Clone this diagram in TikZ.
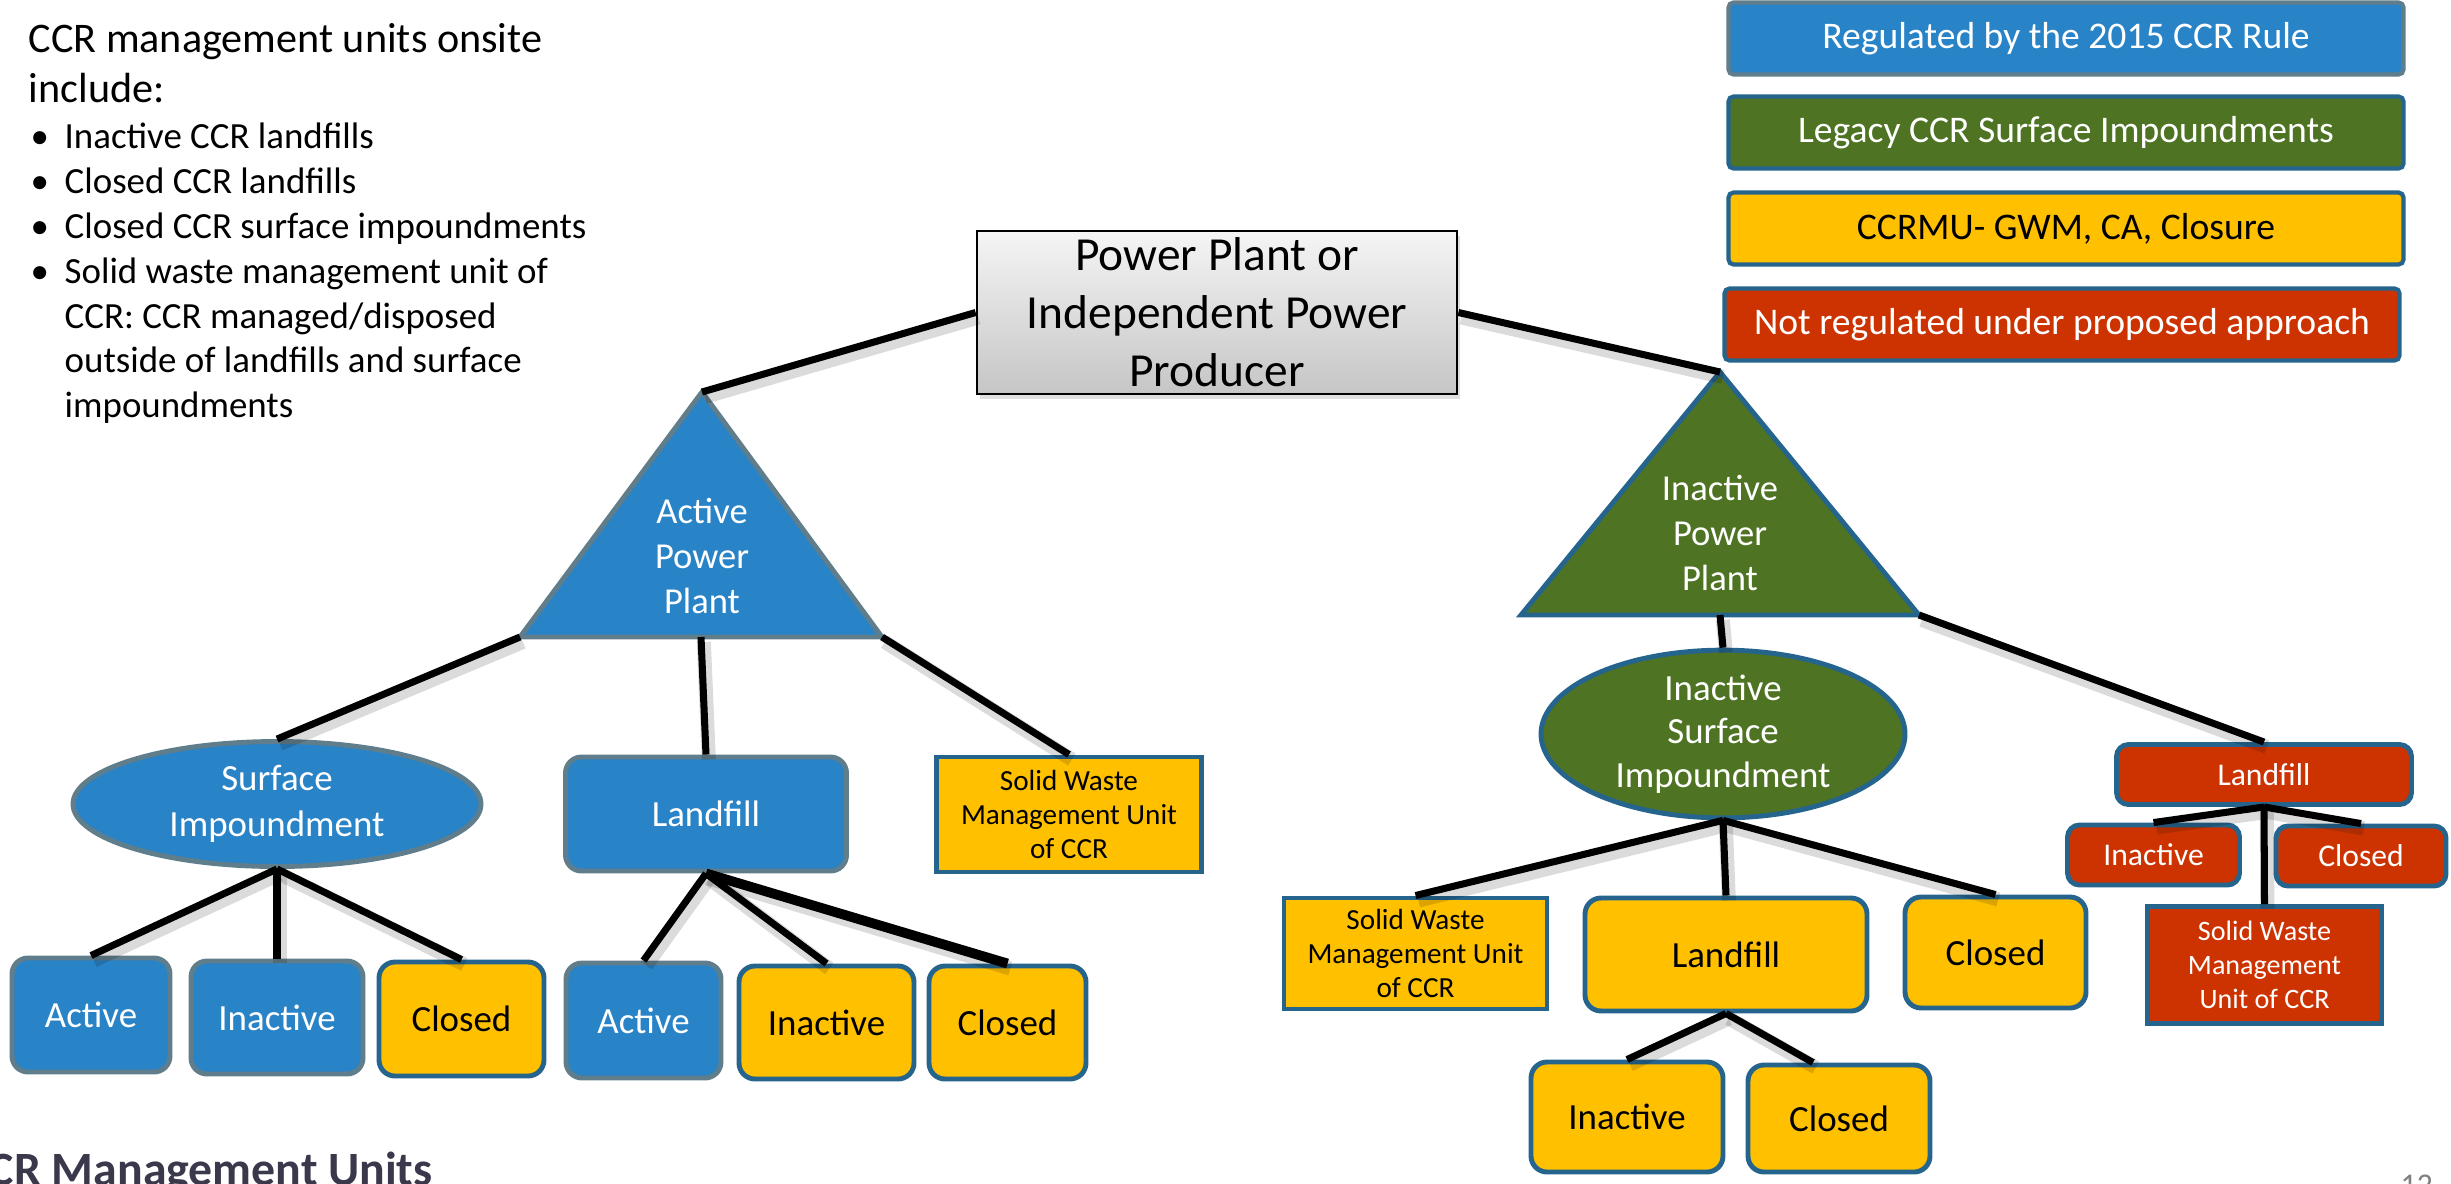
\documentclass[tikz,border=0pt]{standalone}
\usepackage{fontspec}
\setmainfont{Carlito}
\usetikzlibrary{shapes, shadows}
\definecolor{ruleblue}{RGB}{41,131,199}
\definecolor{legacygreen}{RGB}{78,115,35}
\definecolor{ccrmuyellow}{RGB}{255,192,0}
\definecolor{notred}{RGB}{204,51,0}
\definecolor{slateedge}{RGB}{96,125,139}
\definecolor{blueedge}{RGB}{37,100,140}
\definecolor{headgray}{RGB}{58,56,75}
\tikzstyle{legendbox} = [rectangle, rounded corners=0.05cm, line width=1.2pt, minimum width=6.75cm, minimum height=0.72cm,
                    inner sep=0, font=\fontsize{10.7}{12.8}\selectfont]
\tikzstyle{unitbox} = [rectangle, rounded corners=0.16cm, line width=1.4pt, inner sep=0, align=center,
                    font=\fontsize{10.5}{12.6}\selectfont]
\tikzstyle{swmubox} = [rectangle, line width=1.4pt, inner sep=0, align=center, font=\fontsize{8.3}{9.6}\selectfont]
\tikzstyle{pondshape} = [ellipse, line width=1.4pt, inner sep=0, align=center, text=white]
\tikzstyle{bluefill} = [fill=ruleblue, draw=slateedge, text=white]
\tikzstyle{greenfill} = [fill=legacygreen, draw=blueedge, text=white]
\tikzstyle{yellowfill} = [fill=ccrmuyellow, draw=blueedge, text=black]
\tikzstyle{redfill} = [fill=notred, draw=blueedge, text=white]
\tikzstyle{bodytext} = [anchor=base west, inner sep=0, font=\fontsize{10.5}{12.8}\selectfont]
\tikzstyle{planttext} = [text=white, align=center, font=\fontsize{10.4}{12.8}\selectfont]
\tikzstyle{branch} = [line width=2pt, black,
                    preaction={draw=black, opacity=0.14, line width=4pt, transform canvas={xshift=0.8pt, yshift=-1.4pt}}]

\begin{document}
\begin{tikzpicture}
	\useasboundingbox (0, 0) rectangle (24.51, -11.83);
	\clip (0, 0) rectangle (24.51, -11.83);

	% text on the left
	\node (Title1) [anchor=base west, inner sep=0, font=\fontsize{12}{14}\selectfont] at (0.28, -0.52) {CCR management units onsite};
	\node (Title2) [anchor=base west, inner sep=0, font=\fontsize{12}{14}\selectfont] at (0.28, -1.02) {include:};
	\node (Item1) [bodytext] at (0.30, -1.48) {\makebox[0.34cm][l]{\textbullet}Inactive CCR landfills};
	\node (Item2) [bodytext] at (0.30, -1.93) {\makebox[0.34cm][l]{\textbullet}Closed CCR landfills};
	\node (Item3) [bodytext] at (0.30, -2.38) {\makebox[0.34cm][l]{\textbullet}Closed CCR surface impoundments};
	\node (Item4) [bodytext] at (0.30, -2.83) {\makebox[0.34cm][l]{\textbullet}Solid waste management unit of};
	\node (Item4b) [bodytext] at (0.64, -3.28) {CCR: CCR managed/disposed};
	\node (Item4c) [bodytext] at (0.64, -3.72) {outside of landfills and surface};
	\node (Item4d) [bodytext] at (0.64, -4.17) {impoundments};

	% legend
	\node (LegRule) [legendbox, bluefill] at (20.66, -0.385) {Regulated by the 2015 CCR Rule};
	\node (LegLegacy) [legendbox, greenfill] at (20.66, -1.325) {Legacy CCR Surface Impoundments};
	\node (LegCCRMU) [legendbox, yellowfill] at (20.66, -2.285) {CCRMU- GWM, CA, Closure};
	\node (LegNot) [legendbox, redfill] at (20.62, -3.245) {Not regulated under proposed approach};

	% root
	\node (Root) [rectangle, draw=black, line width=0.8pt, top color=gray!8, bottom color=gray!45,
		drop shadow={opacity=0.25, shadow xshift=0.03cm, shadow yshift=-0.05cm},
		minimum width=4.8cm, minimum height=1.63cm, inner sep=0, align=center,
		font=\fontsize{13.5}{16.5}\selectfont] at (12.17, -3.125) {Power Plant or\\Independent Power\\Producer};

	% active plant
	\coordinate (ActTop) at (7.02, -3.92);
	\coordinate (ActLeft) at (5.20, -6.37);
	\coordinate (ActRight) at (8.82, -6.37);
	\coordinate (ActMid) at (7.01, -6.37);
	\filldraw [fill=ruleblue, draw=slateedge, line width=1.4pt] (ActTop) -- (ActRight) -- (ActLeft) -- cycle;
	\node (ActText) [planttext] at (7.02, -5.56) {Active\\Power\\Plant};
	\draw [branch] (Root.west) -- (ActTop);

	\node (SurfImp) [pondshape, bluefill, draw=slateedge, minimum width=4.08cm, minimum height=1.25cm,
		font=\fontsize{10.5}{13}\selectfont] at (2.77, -8.04) {Surface\\Impoundment};
	\node (Landfill) [unitbox, bluefill, minimum width=2.81cm, minimum height=1.14cm] at (7.06, -8.14) {Landfill};
	\node (SolidWaste) [swmubox, yellowfill, minimum width=2.65cm, minimum height=1.15cm] at (10.69, -8.145)
		{Solid Waste\\Management Unit\\of CCR};
	\draw [branch] (ActLeft) -- (SurfImp.north);
	\draw [branch] (ActMid) -- (Landfill.north);
	\draw [branch] (ActRight) -- (SolidWaste.north);

	\node (SurfActive) [unitbox, bluefill, minimum width=1.58cm, minimum height=1.14cm] at (0.91, -10.15) {Active};
	\node (SurfInactive) [unitbox, bluefill, minimum width=1.72cm, minimum height=1.13cm] at (2.77, -10.175) {Inactive};
	\node (SurfClosed) [unitbox, yellowfill, minimum width=1.65cm, minimum height=1.14cm] at (4.615, -10.19) {Closed};
	\draw [branch] (SurfImp.south) -- (SurfActive.north);
	\draw [branch] (SurfImp.south) -- (SurfInactive.north);
	\draw [branch] (SurfImp.south) -- (SurfClosed.north);

	\node (LfActive) [unitbox, bluefill, minimum width=1.55cm, minimum height=1.15cm] at (6.435, -10.205) {Active};
	\node (LfInactive) [unitbox, yellowfill, minimum width=1.75cm, minimum height=1.13cm] at (8.265, -10.225) {Inactive};
	\node (LfClosed) [unitbox, yellowfill, minimum width=1.57cm, minimum height=1.13cm] at (10.075, -10.225) {Closed};
	\draw [branch] (Landfill.south) -- (LfActive.north);
	\draw [branch] (Landfill.south) -- (LfInactive.north);
	\draw [branch, line width=2.8pt] (Landfill.south) -- (LfClosed.north);

	% inactive plant
	\coordinate (InactTop) at (17.20, -3.72);
	\coordinate (InactLeft) at (15.21, -6.15);
	\coordinate (InactRight) at (19.19, -6.15);
	\coordinate (InactMid) at (17.20, -6.15);
	\filldraw [fill=legacygreen, draw=blueedge, line width=1.4pt] (InactTop) -- (InactRight) -- (InactLeft) -- cycle;
	\node (InactText) [planttext] at (17.20, -5.33) {Inactive\\Power\\Plant};
	\draw [branch] (Root.east) -- (InactTop);

	\node (InSurf) [pondshape, greenfill, minimum width=3.64cm, minimum height=1.48cm,
		font=\fontsize{10.5}{12.4}\selectfont] at (17.23, -7.34) {Inactive\\Surface\\Impoundment};
	\draw [branch] (InactMid) -- (InSurf.north);

	\node (InSolidWaste) [swmubox, yellowfill, minimum width=2.63cm, minimum height=1.11cm] at (14.155, -9.535)
		{Solid Waste\\Management Unit\\of CCR};
	\node (InLandfill) [unitbox, yellowfill, minimum width=2.82cm, minimum height=1.13cm] at (17.26, -9.545) {Landfill};
	\node (InClosed) [unitbox, yellowfill, minimum width=1.81cm, minimum height=1.11cm] at (19.955, -9.525) {Closed};
	\draw [branch] (InSurf.south) -- (InSolidWaste.north);
	\draw [branch] (InSurf.south) -- (InLandfill.north);
	\draw [branch] (InSurf.south) -- (InClosed.north);

	\node (InLfInactive) [unitbox, yellowfill, minimum width=1.92cm, minimum height=1.10cm] at (16.27, -11.17) {Inactive};
	\node (InLfClosed) [unitbox, yellowfill, minimum width=1.82cm, minimum height=1.07cm] at (18.39, -11.185) {Closed};
	\draw [branch] (InLandfill.south) -- (InLfInactive.north);
	\draw [branch] (InLandfill.south) -- ([xshift=-0.26cm]InLfClosed.north);

	% not regulated
	\node (RedLandfill) [unitbox, redfill, rounded corners=0.12cm, minimum width=2.95cm, minimum height=0.60cm,
		font=\fontsize{9}{10.8}\selectfont] at (22.64, -7.745) {Landfill};
	\draw [branch] (InactRight) -- (RedLandfill.north);
	\node (RedInactive) [unitbox, redfill, rounded corners=0.12cm, minimum width=1.72cm, minimum height=0.60cm,
		font=\fontsize{9}{10.8}\selectfont] at (21.535, -8.55) {Inactive};
	\node (RedClosed) [unitbox, redfill, rounded corners=0.12cm, minimum width=1.70cm, minimum height=0.60cm,
		font=\fontsize{9}{10.8}\selectfont] at (23.61, -8.56) {Closed};
	\node (RedSolidWaste) [swmubox, redfill, minimum width=2.34cm, minimum height=1.17cm,
		font=\fontsize{8}{9.6}\selectfont] at (22.645, -9.65) {Solid Waste\\Management\\Unit of CCR};
	\draw [branch] (RedLandfill.south) -- (RedInactive.north);
	\draw [branch] (RedLandfill.south) -- (RedClosed.north);
	\draw [branch] (RedLandfill.south) -- (RedSolidWaste.north);

	% footer
	\node (Heading) [anchor=base west, inner sep=0, text=headgray, font=\bfseries\fontsize{13.6}{15}\selectfont] at (-0.37, -11.85)
		{CCR Management Units};
	\node (PageNo) [anchor=base west, inner sep=0, text=gray, font=\fontsize{9}{10}\selectfont] at (24.00, -11.95) {12};
\end{tikzpicture}
\end{document}
